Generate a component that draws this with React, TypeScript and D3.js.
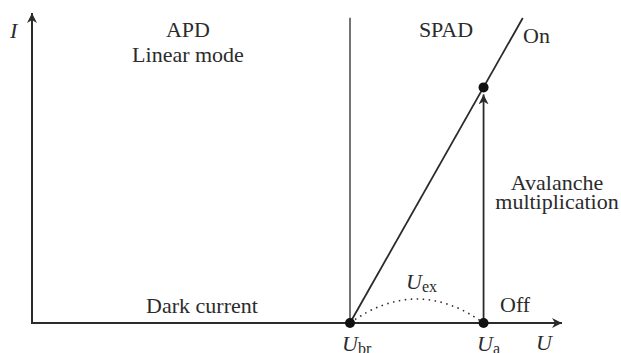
import React, { useEffect, useRef } from "react";
import * as d3 from "d3";

// voltages / currents in normalised units (0..1 of the axes)
const axisRange = [0, 1];
const voltageMarks = ["Ubr", "Ua"];
const voltageValues = [0.6, 0.852];
const onLineEnd = [0.926, 0.984]; // U, I of the top end of the "On" line
const onPointCurrent = 0.76;
const dividerTop = 0.985;

const W = 621;
const H = 353;

export default function App() {
  const ref = useRef<SVGSVGElement>(null);

  useEffect(() => {
    const svg = d3.select(ref.current);
    svg.selectAll("*").remove();

    const x = d3.scaleLinear().domain(axisRange).range([32, 562]);
    const y = d3.scaleLinear().domain(axisRange).range([323, 13]);
    const ink = "#2b2b2b";
    const font = "Liberation Serif, serif";

    const defs = svg.append("defs");
    defs
      .append("marker")
      .attr("id", "arr")
      .attr("viewBox", "0 0 10 10")
      .attr("refX", 10)
      .attr("refY", 5)
      .attr("markerWidth", 10)
      .attr("markerHeight", 10)
      .attr("markerUnits", "userSpaceOnUse")
      .attr("orient", "auto")
      .append("path")
      .attr("d", "M0,0 L10,5 L0,10 L3,5 Z")
      .attr("fill", ink);

    const [ubr, ua] = voltageValues;

    // axes
    svg
      .append("line")
      .attr("x1", x(0)).attr("y1", y(0))
      .attr("x2", x(0)).attr("y2", y(1))
      .attr("stroke", ink).attr("stroke-width", 2)
      .attr("marker-end", "url(#arr)");
    svg
      .append("line")
      .attr("x1", x(0) - 1).attr("y1", y(0))
      .attr("x2", x(1)).attr("y2", y(0))
      .attr("stroke", ink).attr("stroke-width", 2)
      .attr("marker-end", "url(#arr)");

    // divider at breakdown voltage
    svg
      .append("line")
      .attr("x1", x(ubr)).attr("y1", y(0))
      .attr("x2", x(ubr)).attr("y2", y(dividerTop))
      .attr("stroke", ink).attr("stroke-width", 1.3);

    // "On" line
    svg
      .append("line")
      .attr("x1", x(ubr)).attr("y1", y(0))
      .attr("x2", x(onLineEnd[0])).attr("y2", y(onLineEnd[1]))
      .attr("stroke", ink).attr("stroke-width", 1.8);

    // avalanche arrow
    svg
      .append("line")
      .attr("x1", x(ua)).attr("y1", y(0))
      .attr("x2", x(ua)).attr("y2", y(onPointCurrent) + 7)
      .attr("stroke", ink).attr("stroke-width", 1.8)
      .attr("marker-end", "url(#arr)");

    // dotted excess-voltage arc
    const p = d3.path();
    p.moveTo(x(ubr), y(0));
    p.quadraticCurveTo((x(ubr) + x(ua)) / 2, y(0) - 48, x(ua), y(0));
    svg
      .append("path")
      .attr("d", p.toString())
      .attr("fill", "none")
      .attr("stroke", ink)
      .attr("stroke-width", 1.6)
      .attr("stroke-dasharray", "1.5 4.5");

    // dots
    const dots = [
      [ubr, 0],
      [ua, 0],
      [ua, onPointCurrent],
    ];
    svg
      .selectAll("circle")
      .data(dots)
      .enter()
      .append("circle")
      .attr("cx", (d) => x(d[0]))
      .attr("cy", (d) => y(d[1]))
      .attr("r", 5)
      .attr("fill", "#111");

    const txt = (
      s: string,
      tx: number,
      ty: number,
      anchor = "middle",
      italic = false,
      size = 22
    ) =>
      svg
        .append("text")
        .attr("x", tx)
        .attr("y", ty)
        .attr("text-anchor", anchor)
        .attr("font-family", font)
        .attr("font-size", size)
        .attr("font-style", italic ? "italic" : "normal")
        .attr("fill", ink)
        .text(s);

    txt("APD", 188, 37);
    txt("Linear mode", 188, 62);
    txt("SPAD", 446, 37);
    txt("On", 523, 43, "start");
    txt("Avalanche", 557, 190);
    txt("multiplication", 557, 209);
    txt("Dark current", 202, 313);
    txt("Off", 500, 312, "start");
    txt("I", 10, 38, "start", true);
    txt("U", 536, 350, "start", true);

    const sub = (main: string, s: string, tx: number, ty: number) => {
      const t = svg
        .append("text")
        .attr("x", tx)
        .attr("y", ty)
        .attr("font-family", font)
        .attr("font-size", 22)
        .attr("fill", ink);
      t.append("tspan").attr("font-style", "italic").text(main);
      t.append("tspan").attr("font-size", 16).attr("dy", 3).text(s);
    };
    sub("U", "ex", 406, 289);
    sub("U", "br", 342, 351);
    sub("U", "a", 477, 351);
  }, []);

  return (
    <svg
      ref={ref}
      width={W}
      height={H}
      style={{ position: "absolute", left: 0, top: 0, background: "#fff" }}
    />
  );
}
